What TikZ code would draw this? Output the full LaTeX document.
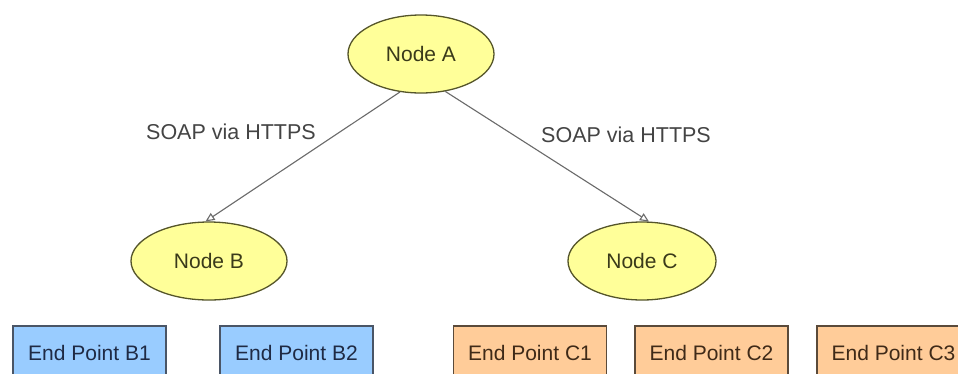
\documentclass[tikz,border=0pt]{standalone}
\usepackage{fontspec}
\setmainfont{Liberation Sans}
\usetikzlibrary{shapes.geometric,arrows.meta}

\definecolor{peerfill}{HTML}{FFFF99}
\definecolor{peerline}{HTML}{55552A}
\definecolor{peertext}{HTML}{3A3A1A}
\definecolor{bfill}{HTML}{99CCFF}
\definecolor{bline}{HTML}{4A5566}
\definecolor{btext}{HTML}{1F2A44}
\definecolor{cfill}{HTML}{FFCC99}
\definecolor{cline}{HTML}{5A4A3A}
\definecolor{ctext}{HTML}{3F2A18}
\definecolor{linkgray}{HTML}{6A6A6A}
\definecolor{labelgray}{HTML}{444444}

\tikzset{
  peer/.style={ellipse, draw=peerline, line width=1.3pt, fill=peerfill,
    text=peertext, font=\fontsize{21}{24}\selectfont,
    minimum width=150pt, minimum height=78pt, inner sep=0pt},
  bpoint/.style={rectangle, draw=bline, line width=1.2pt, fill=bfill,
    text=btext, font=\fontsize{21}{24}\selectfont,
    minimum width=153pt, minimum height=54pt, inner sep=0pt},
  cpoint/.style={bpoint, draw=cline, fill=cfill, text=ctext},
  link/.style={draw=linkgray, line width=1.1pt,
    -{Triangle[open, length=9pt, width=8pt]}},
  proto/.style={text=labelgray, font=\fontsize{21.5}{24}\selectfont, inner sep=0pt}
}

\begin{document}
\begin{tikzpicture}[x=1pt,y=-1pt]
  \fill[white] (0,0) rectangle (958,373);
  \useasboundingbox (0,0) rectangle (958,373);

  % service nodes
  \node[peer, minimum width=146pt] (A) at (421,54) {Node A};
  \node[peer, minimum width=156pt] (B) at (209,261) {Node B};
  \node[peer, minimum width=148pt] (C) at (642,261) {Node C};

  % SOAP links
  \draw[link] (A.241) -- (B.95);
  \draw[link] (A.303) -- (C.80);
  \node[proto] (lb) at (231,132) {SOAP via HTTPS};
  \node[proto] (lc) at (626,135) {SOAP via HTTPS};

  % end points
  \node[bpoint] (b1) at (89.5,353) {End Point B1};
  \node[bpoint] (b2) at (296.5,353) {End Point B2};
  \node[cpoint] (c1) at (530,353) {End Point C1};
  \node[cpoint] (c2) at (711.5,353) {End Point C2};
  \node[cpoint] (c3) at (893.5,353) {End Point C3};
\end{tikzpicture}
\end{document}
